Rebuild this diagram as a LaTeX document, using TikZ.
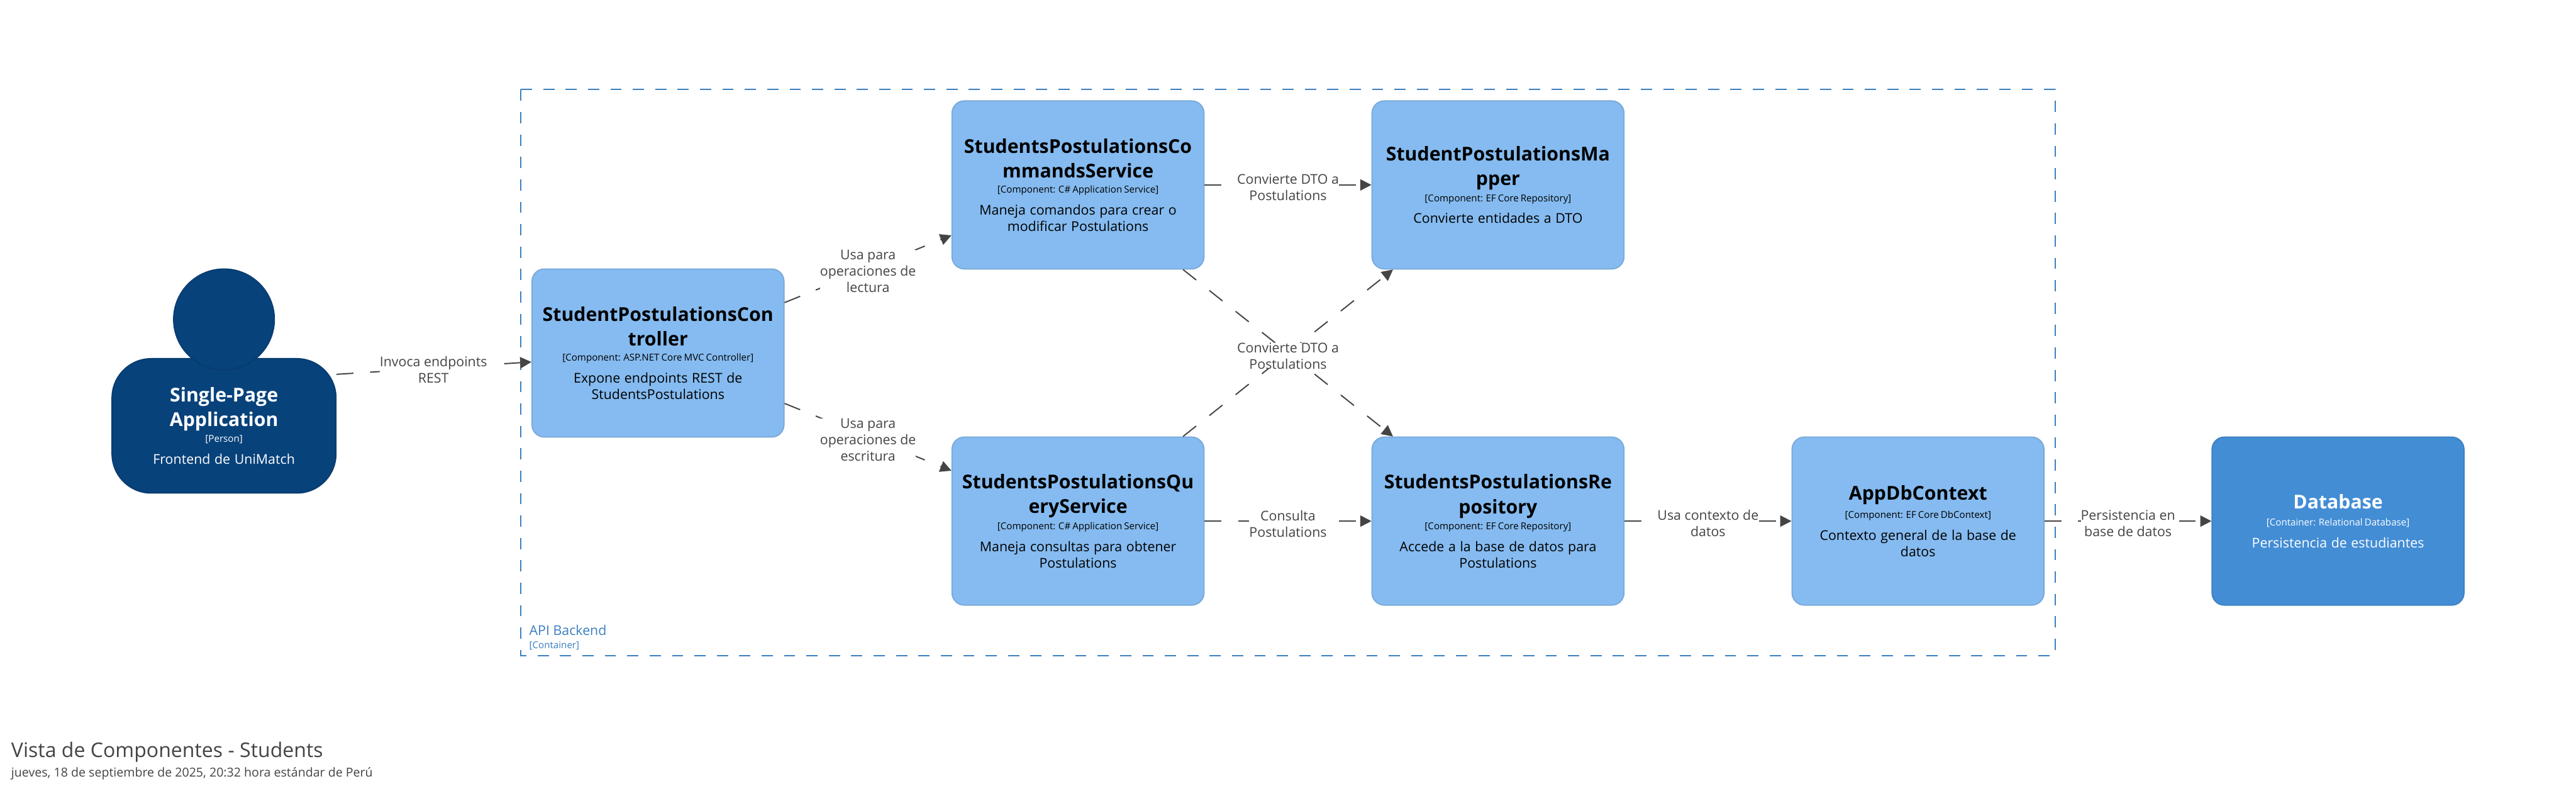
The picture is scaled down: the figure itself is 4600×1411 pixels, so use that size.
\documentclass[tikz,border=0pt]{standalone}
\usepackage{fontspec}
\setmainfont{Open Sans}
\usetikzlibrary{arrows.meta}
\definecolor{compfill}{HTML}{85BBF0}
\definecolor{compline}{HTML}{78A8D8}
\definecolor{dbfill}{HTML}{438DD5}
\definecolor{dbline}{HTML}{3C7FC0}
\definecolor{perfill}{HTML}{08427B}
\definecolor{perline}{HTML}{073B6F}
\definecolor{linkc}{HTML}{444444}
\lineskiplimit=-1000pt
\newcommand{\boxtxt}[3]{\centering\vspace*{4pt}{\fontsize{34}{40}\selectfont\bfseries #1\par}\vspace{7pt}{\fontsize{17}{20}\selectfont #2\par}\vspace{10pt}{\fontsize{24}{29}\selectfont\spaceskip=.31em #3\par}}
\tikzset{
  box/.style={rectangle,rounded corners=22pt,minimum width=450pt,minimum height=300pt,text width=440pt,inner sep=0pt,line width=2pt,text=black},
  comp/.style={box,draw=compline,fill=compfill},
  dbbox/.style={box,draw=dbline,fill=dbfill,text=white},
  rel/.style={draw=linkc,line width=2.2pt,dash pattern=on 30pt off 30pt,-{Triangle[length=20pt,width=20pt]}},
  lab/.style={fill=white,inner sep=0pt,align=center,text=linkc,font=\fontsize{24}{29}\selectfont},
  grp/.style={draw=dbline,line width=2.2pt,dash pattern=on 20pt off 20pt}
}
\begin{document}
\begin{tikzpicture}[x=1pt,y=-1pt]
\useasboundingbox (0,0) rectangle (4600,1411);
\fill[white] (0,0) rectangle (4600,1411);
% group
\coordinate (g1) at (930,160);
\coordinate (g2) at (3670,160);
\coordinate (g3) at (3670,1170);
\coordinate (g4) at (930,1170);
\draw[grp] (g1) -- (g2) -- (g3) -- (g4) -- cycle;
\node[anchor=west,text=dbline,font=\fontsize{24}{29}\selectfont,inner sep=0pt] (gname) at (945,1125) {API Backend};
\node[anchor=west,text=dbline,font=\fontsize{17}{20}\selectfont,inner sep=0pt] (gtype) at (945,1152) {[Container]};
% person
\node[rectangle,rounded corners=70pt,minimum width=400pt,minimum height=240pt,text width=390pt,inner sep=0pt,line width=2pt,text=white,draw=perline,fill=perfill] (person) at (400,760) {\boxtxt{Single-Page\\Application}{[Person]}{Frontend de UniMatch}};
\node[circle,minimum size=180pt,inner sep=0pt,line width=2pt,draw=perline,fill=perfill] (head) at (400,570) {};
% components
\node[comp] (ctrl) at (1175,630) {\boxtxt{StudentPostulationsCon\\troller}{[Component: ASP.NET Core MVC Controller]}{Expone endpoints REST de\\StudentsPostulations}};
\node[comp] (cmd) at (1925,330) {\boxtxt{StudentsPostulationsCo\\mmandsService}{[Component: C\# Application Service]}{Maneja comandos para crear o\\modificar Postulations}};
\node[comp] (map) at (2675,330) {\boxtxt{StudentPostulationsMa\\pper}{[Component: EF Core Repository]}{Convierte entidades a DTO}};
\node[comp] (qry) at (1925,930) {\boxtxt{StudentsPostulationsQu\\eryService}{[Component: C\# Application Service]}{Maneja consultas para obtener\\Postulations}};
\node[comp] (repo) at (2675,930) {\boxtxt{StudentsPostulationsRe\\pository}{[Component: EF Core Repository]}{Accede a la base de datos para\\Postulations}};
\node[comp] (app) at (3425,930) {\boxtxt{AppDbContext}{[Component: EF Core DbContext]}{Contexto general de la base de\\datos}};
\node[dbbox] (db) at (4175,930) {\boxtxt{Database}{[Container: Relational Database]}{Persistencia de estudiantes}};
% connectors
\draw[rel] ([yshift=92pt]person.east) -- ([yshift=-16pt]ctrl.west);
\draw[rel] ([yshift=90pt]ctrl.east) -- ([yshift=-90pt]cmd.west);
\draw[rel] ([yshift=-90pt]ctrl.east) -- ([yshift=90pt]qry.west);
\draw[rel] (cmd.east) -- (map.west);
\draw[rel] ([xshift=187.5pt]cmd.south) -- ([xshift=-187.5pt]repo.north);
\draw[rel] ([xshift=187.5pt]qry.north) -- ([xshift=-187.5pt]map.south);
\draw[rel] (qry.east) -- (repo.west);
\draw[rel] (repo.east) -- (app.west);
\draw[rel] (app.east) -- (db.west);
% labels
\node[lab] (l1) at (774,660) {Invoca endpoints\\REST};
\node[lab] (l2) at (1550,484) {Usa para\\operaciones de\\lectura};
\node[lab] (l3) at (1550,785) {Usa para\\operaciones de\\escritura};
\node[lab] (l4) at (2300,334) {Convierte DTO a\\Postulations};
\node[lab] (l5) at (2300,635) {Convierte DTO a\\Postulations};
\node[lab] (l6) at (2300,935) {Consulta\\Postulations};
\node[lab] (l7) at (3050,934) {Usa contexto de\\datos};
\node[lab] (l8) at (3800,934) {Persistencia en\\base de datos};
% title
\node[anchor=west,text=linkc,font=\fontsize{36}{44}\selectfont,inner sep=0pt] (title) at (20,1342) {Vista de Componentes - Students};
\node[anchor=west,text=linkc,font=\fontsize{22}{28}\selectfont,inner sep=0pt] (date) at (20,1381) {jueves, 18 de septiembre de 2025, 20:32 hora estándar de Perú};
\end{tikzpicture}
\end{document}
